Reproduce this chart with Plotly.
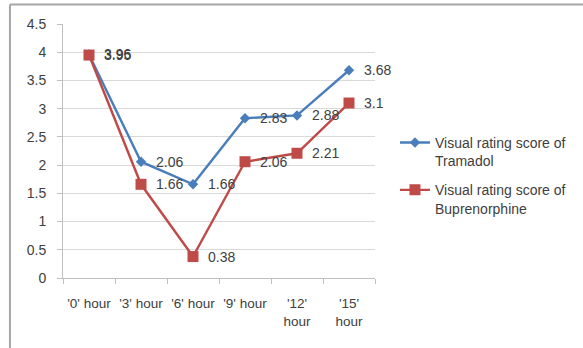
import plotly.graph_objects as go

hours = ["'0' hour", "'3' hour", "'6' hour", "'9' hour", "'12'<br>hour", "'15'<br>hour"]
tramadol = [3.96, 2.06, 1.66, 2.83, 2.88, 3.68]
buprenorphine = [3.95, 1.66, 0.38, 2.06, 2.21, 3.1]
y_ticks = [0, 0.5, 1, 1.5, 2, 2.5, 3, 3.5, 4, 4.5]
y_tick_text = ["0", "0.5", "1", "1.5", "2", "2.5", "3", "3.5", "4", "4.5"]

FONT = "Liberation Sans"
TEXT_COLOR = "#404040"
BLUE = "#4A7EBB"
RED = "#BE4B48"

fig = go.Figure()
fig.add_trace(go.Scatter(
    x=hours, y=tramadol, mode="lines+markers",
    name="Visual rating score of<br>Tramadol", legendgroup="t",
    line=dict(color=BLUE, width=2.4),
    marker=dict(symbol="diamond", size=8, color=BLUE),
))
fig.add_trace(go.Scatter(
    x=hours, y=buprenorphine, mode="lines+markers",
    name="Visual rating score of<br>Buprenorphine", legendgroup="b",
    line=dict(color=RED, width=2.4),
    marker=dict(symbol="square", size=11, color=RED),
))

# Value labels to the right of each point
for series in (tramadol, buprenorphine):
    for h, v in zip(hours, series):
        fig.add_annotation(x=h, y=v, text=str(v), showarrow=False,
                           xanchor="left", yanchor="middle", xshift=13,
                           font=dict(family=FONT, size=14, color=TEXT_COLOR))

# Outer chart border (top and left edges visible)
fig.add_shape(type="line", xref="paper", yref="paper",
              x0=-0.17, x1=1.7, y0=1.077, y1=1.077,
              line=dict(color="#A6A6A6", width=2))
fig.add_shape(type="line", xref="paper", yref="paper",
              x0=-0.17, x1=-0.17, y0=1.077, y1=-0.3,
              line=dict(color="#A6A6A6", width=2))

fig.update_layout(
    width=583, height=348,
    margin=dict(l=63, r=208, t=24, b=70),
    paper_bgcolor="white", plot_bgcolor="white",
    font=dict(family=FONT, size=14, color=TEXT_COLOR),
    showlegend=True,
    legend=dict(x=1.064, y=0.595, xanchor="left", yanchor="top",
                font=dict(family=FONT, size=14, color=TEXT_COLOR),
                tracegroupgap=8, itemwidth=30, valign="top"),
    xaxis=dict(type="category", showgrid=False, showline=True,
               linecolor="#BFBFBF", ticks="outside", tickcolor="#BFBFBF",
               ticklen=5, range=[-0.5, 5.5], tickson="boundaries",
               ticklabelstandoff=13, tickangle=0,
               tickfont=dict(family=FONT, size=13.5, color=TEXT_COLOR)),
    yaxis=dict(range=[0, 4.5], tickvals=y_ticks, ticktext=y_tick_text,
               showgrid=True, gridcolor="#D9D9D9", gridwidth=1,
               showline=True, linecolor="#BFBFBF", ticks="outside",
               tickcolor="#BFBFBF", ticklen=5, zeroline=False,
               ticklabelstandoff=8,
               tickfont=dict(family=FONT, size=14, color=TEXT_COLOR)),
)

fig.write_html("out.html")
